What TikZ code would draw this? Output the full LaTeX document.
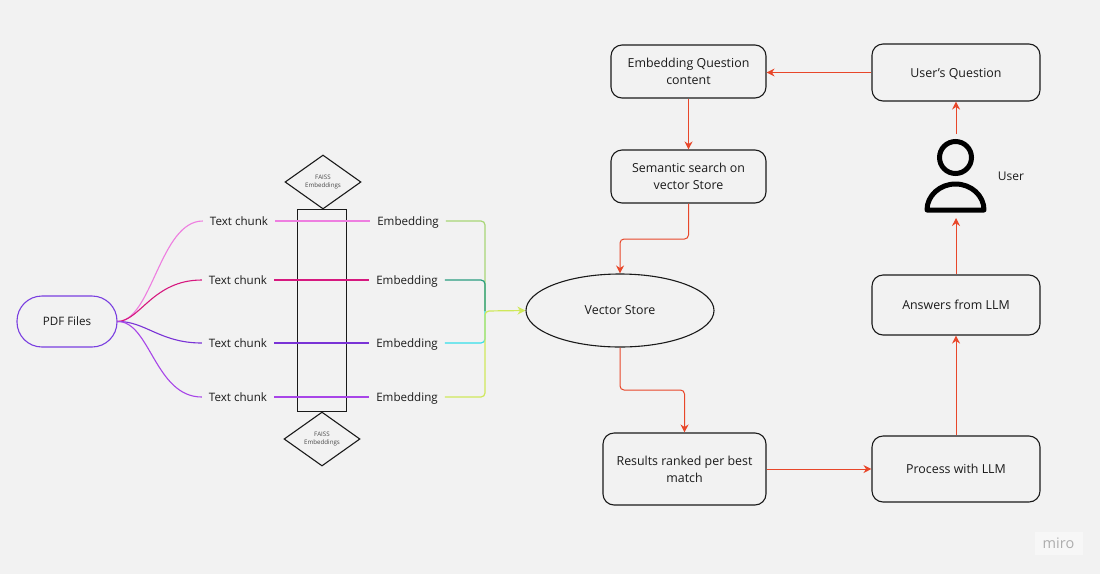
\documentclass[tikz,border=0pt]{standalone}
\usepackage{fontspec}
\setmainfont{Open Sans}
\usetikzlibrary{arrows.meta,shapes.geometric}
\definecolor{paper}{HTML}{F2F2F2}
\definecolor{flow}{HTML}{E8472A}
\definecolor{ink}{HTML}{1A1A1A}
\definecolor{pdfline}{HTML}{7A3FE0}
\definecolor{pinkline}{HTML}{EE7EE0}
\definecolor{roseline}{HTML}{D6187F}
\definecolor{violetline}{HTML}{7A33D6}
\definecolor{purpleline}{HTML}{A845E8}
\definecolor{greenline}{HTML}{A7D676}
\definecolor{tealline}{HTML}{2A9D7F}
\definecolor{cyanline}{HTML}{35DFEA}
\definecolor{limeline}{HTML}{CFE85A}
\tikzset{
	label text/.style={font=\fontsize{11.6}{15}\selectfont,text=ink,text height=10pt,text depth=2pt,inner xsep=7pt,inner ysep=0pt},
	box/.style={draw=ink,line width=1.1pt,rounded corners=11pt,font=\fontsize{12.4}{17}\selectfont,text=ink,align=center,inner sep=0pt,text depth=-1pt},
	faiss/.style={draw=ink,line width=1.1pt,diamond,aspect=1.4,inner sep=0pt,minimum width=76pt,minimum height=54pt,font=\fontsize{6.2}{8.5}\selectfont,text=ink!80,align=center},
	flowline/.style={draw=flow,line width=1pt,rounded corners=4pt,-{Stealth[length=8pt,width=8pt]}},
	branch/.style={line width=1.1pt},
	merge/.style={line width=1.2pt,rounded corners=4pt}
}
\begin{document}
\begin{tikzpicture}[x=1pt,y=-1pt]
	\path[fill=paper,use as bounding box] (0,0) rectangle (1100,574);
	% left side
	\node[box,draw=pdfline,rounded corners=25pt,minimum width=100pt,minimum height=51pt,font=\fontsize{11.6}{15}\selectfont] (pdf) at (67,321.5) {PDF Files};
	\node[label text] (t1) at (239,221) {Text chunk};
	\node[label text] (t2) at (238,280) {Text chunk};
	\node[label text] (t3) at (238,343) {Text chunk};
	\node[label text] (t4) at (238,397) {Text chunk};
	\node[label text] (e1) at (408,221) {Embedding};
	\node[label text] (e2) at (407,280) {Embedding};
	\node[label text] (e3) at (407,343) {Embedding};
	\node[label text] (e4) at (407,397) {Embedding};
	\node[draw=ink,line width=1.1pt,inner sep=0pt,minimum width=49pt,minimum height=202pt] (index) at (322,310.5) {};
	\node[faiss] (faissup) at (323,182) {FAISS\\Embeddings};
	\node[faiss] (faissdown) at (322,439) {FAISS\\Embeddings};
	\draw[branch,pinkline] (pdf.east) .. controls (152,321) and (160,221) .. (t1.west);
	\draw[branch,roseline] (pdf.east) .. controls (140,321) and (153,280) .. (t2.west);
	\draw[branch,violetline] (pdf.east) .. controls (145,321) and (160,343) .. (t3.west);
	\draw[branch,purpleline] (pdf.east) .. controls (150,321) and (155,397) .. (t4.west);
	\draw[branch,pinkline] (t1.east) -- (e1.west);
	\draw[branch,roseline] (t2.east) -- (e2.west);
	\draw[branch,violetline] (t3.east) -- (e3.west);
	\draw[branch,purpleline] (t4.east) -- (e4.west);
	% right side
	\node[draw=ink,line width=1.1pt,ellipse,inner sep=0pt,minimum width=188pt,minimum height=73pt,font=\fontsize{12.4}{17}\selectfont,text=ink,text depth=-2pt] (store) at (620,310.5) {Vector Store};
	\node[box,minimum width=155pt,minimum height=53pt] (embedq) at (688.5,71.5) {Embedding Question\\content};
	\node[box,minimum width=155pt,minimum height=53pt] (search) at (688.5,176.5) {Semantic search on\\vector Store};
	\node[box,minimum width=163pt,minimum height=72pt] (results) at (684.5,469) {Results ranked per best\\match};
	\node[box,minimum width=168pt,minimum height=66pt] (process) at (956,469) {Process with LLM};
	\node[box,minimum width=168pt,minimum height=60pt] (answers) at (956,305) {Answers from LLM};
	\node[box,minimum width=168pt,minimum height=57pt] (question) at (956,72.5) {User's Question};
	\node[font=\fontsize{12}{17}\selectfont,text=ink,inner sep=0pt] (user) at (1011,176.5) {User};
	\coordinate (join) at (485,311);
	\coordinate (usertop) at (956,134);
	\coordinate (userbottom) at (956,218);
	\draw[merge,greenline] (e1.east) -| (join);
	\draw[merge,tealline] (e2.east) -| (join);
	\draw[merge,cyanline] (e3.east) -| (join);
	\draw[merge,limeline,-{Stealth[length=8pt,width=8pt]}] (e4.east) -| (join) -- (store.west);
	\draw[flowline] (question.west) -- (embedq.east |- question.west);
	\draw[flowline] (embedq.south) -- (search.north);
	\draw[flowline] (search.south) -- (688.5,239) -- (620,239) -- (store.north);
	\draw[flowline] (store.south) -- (620,390) -- (684.5,390) -- (results.north);
	\draw[flowline] (results.east) -- (process.west);
	\draw[flowline] (process.north) -- (answers.south);
	\draw[flowline] (answers.north) -- (userbottom);
	\draw[flowline] (usertop) -- (question.south);
	% person
	\draw[line width=5pt,black] (955.5,157.5) circle (16);
	\draw[line width=5pt,black,line join=round] (927,210) arc[start angle=180,end angle=360,x radius=28.5,y radius=26] -- cycle;
	% watermark
	\node[fill=white!40!paper,inner sep=0pt,minimum width=48pt,minimum height=23pt,font=\fontsize{14.5}{15}\selectfont,text=black!32] (miro) at (1058.5,543.5) {miro};
\end{tikzpicture}
\end{document}
